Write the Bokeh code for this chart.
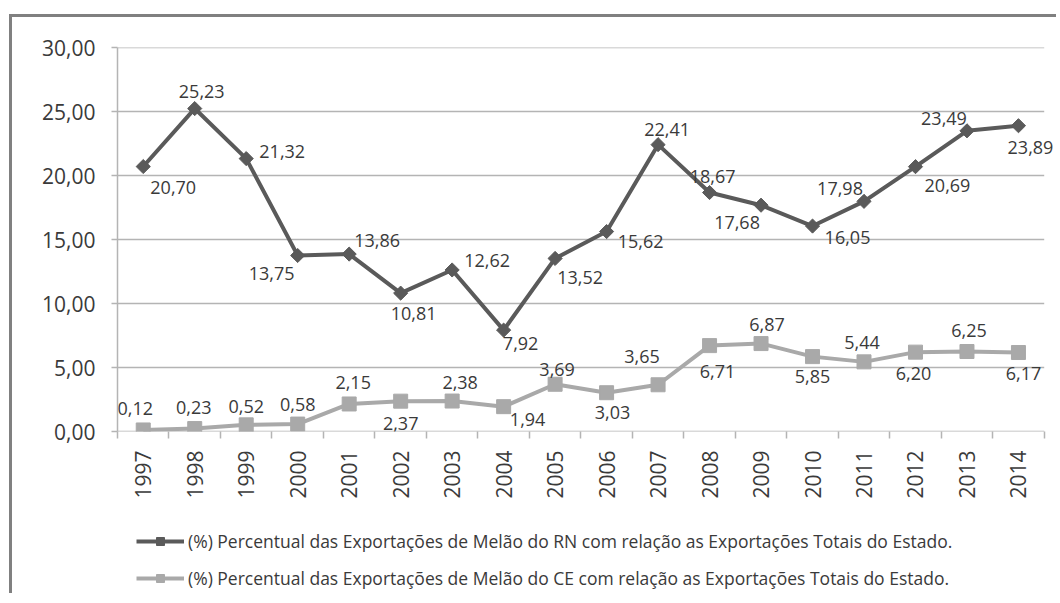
import math
from bokeh.plotting import figure
from bokeh.layouts import column
from bokeh.models import (ColumnDataSource, FixedTicker, Legend, LegendItem, Range1d)
from bokeh.core.properties import value
from bokeh.embed import file_html
from bokeh.resources import INLINE

years = ["1997", "1998", "1999", "2000", "2001", "2002", "2003", "2004", "2005",
         "2006", "2007", "2008", "2009", "2010", "2011", "2012", "2013", "2014"]
rn_values = [20.70, 25.23, 21.32, 13.75, 13.86, 10.81, 12.62, 7.92, 13.52,
             15.62, 22.41, 18.67, 17.68, 16.05, 17.98, 20.69, 23.49, 23.89]
ce_values = [0.12, 0.23, 0.52, 0.58, 2.15, 2.37, 2.38, 1.94, 3.69,
             3.03, 3.65, 6.71, 6.87, 5.85, 5.44, 6.20, 6.25, 6.17]
y_ticks = [0, 5, 10, 15, 20, 25, 30]
series_names = [
    "(%) Percentual das Exportações de Melão do RN com relação as Exportações Totais do Estado.",
    "(%) Percentual das Exportações de Melão do CE com relação as Exportações Totais do Estado.",
]

# label offsets (pixels, screen: +x right, +y down)
rn_dx = [30, 7, 36, -26, 28, 13, 35, 17, 25, 34, 9, 3, -24, 35, -24, 32, -23, 12]
rn_dy = [21, -17, -7, 18, -14, 20, -9, 13, 19, 10, -15, -16, 17, 11, -13, 19, -12, 22]
ce_dx = [-8, -1, 0, 0, 4, 0, 8, 24, 2, 6, -16, 8, 6, 0, -2, -2, 2, 5]
ce_dy = [-21, -21, -18, -20, -21, 22, -19, 13, -15, 20, -28, 26, -19, 20, -19, 21, -21, 21]

FONT = "Open Sans"
TXT = "#3a3a3a"
RN_COL = "#5a5a5a"
CE_COL = "#a9a9a9"
GRID = "#b4b4b4"
W = 1044
MH = 484
LH = 92

def fmt(v):
    return f"{v:.2f}".replace(".", ",")

xs = list(range(len(years)))
x_lo, x_hi = -0.5, len(years) - 0.5

p = figure(width=W, height=MH, output_backend="svg", toolbar_location=None,
           x_range=Range1d(x_lo, x_hi + 0.2), y_range=Range1d(0, 30),
           min_border_left=105, min_border_right=2, min_border_top=30,
           min_border_bottom=MH - 30 - 385)
p.outline_line_color = None
p.background_fill_color = "white"
p.border_fill_color = "white"

# axes
p.yaxis.ticker = FixedTicker(ticks=y_ticks)
p.yaxis.major_label_overrides = {t: fmt(t) for t in y_ticks}
p.yaxis.major_label_text_font = FONT
p.yaxis.major_label_text_font_size = "21px"
p.yaxis.major_label_text_color = TXT
p.yaxis.axis_line_color = GRID
p.yaxis.axis_line_width = 1.5
p.yaxis.major_tick_line_color = GRID
p.yaxis.major_tick_line_width = 1.5
p.yaxis.major_tick_out = 6
p.yaxis.major_tick_in = 0
p.yaxis.minor_tick_line_color = None
p.yaxis.major_label_standoff = 16

p.xaxis.ticker = FixedTicker(ticks=xs, minor_ticks=[i - 0.5 for i in range(len(years) + 1)])
p.xaxis.major_label_overrides = {i: y for i, y in enumerate(years)}
p.xaxis.major_label_orientation = math.pi / 2
p.xaxis.major_label_text_font = FONT
p.xaxis.major_label_text_font_size = "21px"
p.xaxis.major_label_text_color = TXT
p.xaxis.axis_line_color = None
p.xaxis.major_tick_line_color = None
p.xaxis.major_tick_out = 0
p.xaxis.major_tick_in = 0
p.xaxis.minor_tick_line_color = GRID
p.xaxis.minor_tick_line_width = 1.5
p.xaxis.minor_tick_out = 7
p.xaxis.minor_tick_in = 0
p.xaxis.major_label_standoff = 12

p.xgrid.grid_line_color = None
p.ygrid.grid_line_color = None

# horizontal gridlines (and the category axis line at 0) across the category extent
p.segment(x0=[x_lo] * len(y_ticks), x1=[x_hi] * len(y_ticks), y0=y_ticks, y1=y_ticks,
          line_color=GRID, line_width=1.5)

rn_src = ColumnDataSource(dict(x=xs, y=rn_values, lab=[fmt(v) for v in rn_values],
                               dx=rn_dx, dy=rn_dy))
ce_src = ColumnDataSource(dict(x=xs, y=ce_values, lab=[fmt(v) for v in ce_values],
                               dx=ce_dx, dy=ce_dy))

p.line("x", "y", source=ce_src, line_color=CE_COL, line_width=4)
p.scatter("x", "y", source=ce_src, marker="square", size=14,
          fill_color=CE_COL, line_color=CE_COL)
p.line("x", "y", source=rn_src, line_color=RN_COL, line_width=4)
p.scatter("x", "y", source=rn_src, marker="square", angle=math.pi / 4,
          size=10, fill_color=RN_COL, line_color=RN_COL)

for src in (rn_src, ce_src):
    p.text("x", "y", text="lab", source=src, x_offset="dx", y_offset="dy",
           text_font=value(FONT), text_font_size="18px", text_color=TXT,
           text_align="center", text_baseline="middle")

# legend panel (separate figure below the plot)
lf = figure(width=W, height=LH, output_backend="svg", toolbar_location=None,
            x_range=Range1d(0, W), y_range=Range1d(LH, 0),
            min_border=0, x_axis_type=None, y_axis_type=None)
lf.outline_line_color = None
lf.grid.visible = False
lf.background_fill_color = "white"
lf.border_fill_color = "white"
far = [-5000]
l_rn = lf.line(far, far, line_color=RN_COL, line_width=4)
m_rn = lf.scatter(far, far, marker="square", angle=math.pi / 4, size=7,
                  fill_color=RN_COL, line_color=RN_COL)
l_ce = lf.line(far, far, line_color=CE_COL, line_width=4)
m_ce = lf.scatter(far, far, marker="square", size=11,
                  fill_color=CE_COL, line_color=CE_COL)
legend = Legend(items=[LegendItem(label=series_names[0], renderers=[l_rn, m_rn]),
                       LegendItem(label=series_names[1], renderers=[l_ce, m_ce])],
                location=(19, 3), orientation="vertical",
                label_text_font=FONT, label_text_font_size="17.5px",
                label_text_color=TXT, glyph_width=48, glyph_height=20,
                label_height=20, spacing=13, padding=0, margin=0,
                label_standoff=4, border_line_color=None,
                background_fill_alpha=0)
lf.add_layout(legend, "center")

layout = column(p, lf, spacing=0,
                styles={"margin-left": "9px", "margin-top": "14px",
                        "box-sizing": "content-box", "overflow": "visible",
                        "border-left": "3px solid #808080",
                        "border-top": "3px solid #808080"})

open("out.html", "w").write(file_html(layout, INLINE))
